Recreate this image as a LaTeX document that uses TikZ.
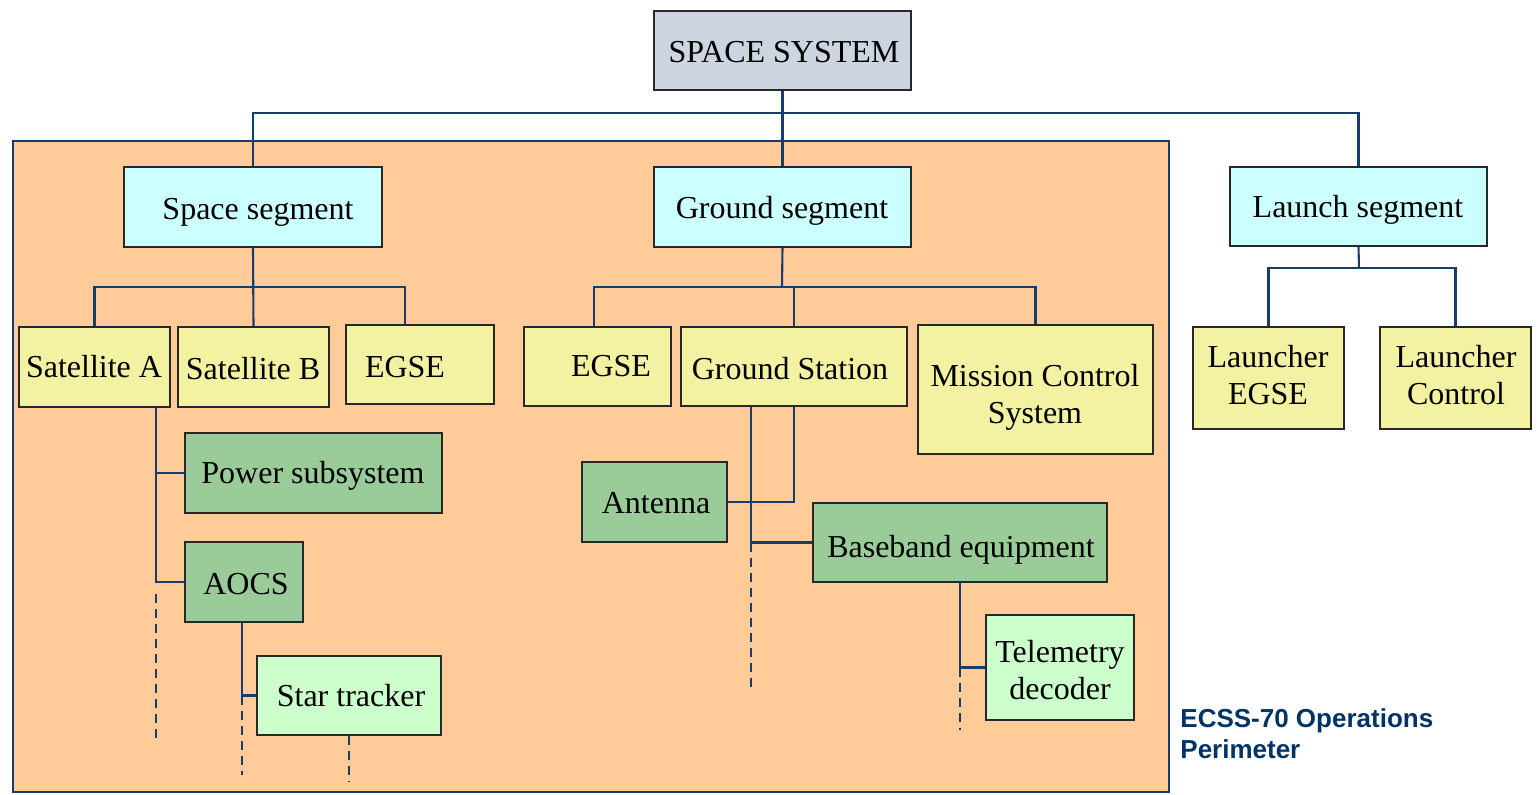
\documentclass[tikz,border=0pt]{standalone}
\usepackage{fontspec}
\setmainfont{Liberation Serif}
\newfontfamily\labfont{Liberation Sans}
\usetikzlibrary{fit,calc}
\definecolor{sysfill}{RGB}{205,213,224}
\definecolor{segfill}{RGB}{204,255,255}
\definecolor{yelfill}{RGB}{242,242,162}
\definecolor{grnfill}{RGB}{153,204,153}
\definecolor{ltgfill}{RGB}{204,255,204}
\definecolor{perfill}{RGB}{255,204,153}
\definecolor{lineblue}{RGB}{23,60,110}
\definecolor{labblue}{RGB}{0,51,102}
\definecolor{boxline}{RGB}{40,40,40}
\begin{document}
\begin{tikzpicture}[x=0.5pt,y=-0.5pt,
  box/.style={draw=boxline, line width=0.7pt, inner sep=0pt, rectangle},
  txt/.style={anchor=base, inner sep=0pt, font=\fontsize{16}{18.5}\selectfont, align=center},
  conn/.style={draw=lineblue, line width=1.05pt},
  dconn/.style={conn, dash pattern=on 4.5pt off 3pt},
]
\useasboundingbox (0,0) rectangle (1538,794);
\node[draw=lineblue, line width=1.2pt, fill=perfill, inner sep=0pt, fit={(13,141) (1169,792)}] (perim) {};

% boxes
\node[box, fill=sysfill, fit={(654,11) (911,90)}] (sys) {};
\node[box, fill=segfill, fit={(124,167) (382,247)}] (spaceseg) {};
\node[box, fill=segfill, fit={(654,167) (911,247)}] (groundseg) {};
\node[box, fill=segfill, fit={(1230,167) (1487,246)}] (launchseg) {};
\node[box, fill=yelfill, fit={(19,327) (170,407)}] (satA) {};
\node[box, fill=yelfill, fit={(178,327) (329,407)}] (satB) {};
\node[box, fill=yelfill, fit={(346,325) (494,404)}] (egseA) {};
\node[box, fill=yelfill, fit={(524,327) (671,406)}] (egseB) {};
\node[box, fill=yelfill, fit={(681,327) (907,406)}] (gs) {};
\node[box, fill=yelfill, fit={(918,325) (1153,454)}] (mcs) {};
\node[box, fill=yelfill, fit={(1193,327) (1344,429)}] (legse) {};
\node[box, fill=yelfill, fit={(1380,327) (1531,429)}] (lctrl) {};
\node[box, fill=grnfill, fit={(185,433) (442,513)}] (power) {};
\node[box, fill=grnfill, fit={(185,542) (303,622)}] (aocs) {};
\node[box, fill=ltgfill, fit={(257,656) (441,735)}] (star) {};
\node[box, fill=grnfill, fit={(582,462) (727,542)}] (ant) {};
\node[box, fill=grnfill, fit={(813,503) (1107,582)}] (bb) {};
\node[box, fill=ltgfill, fit={(986,615) (1134,720)}] (tel) {};

% texts (multi-line: anchor base = last line)
\node[txt] (sys-t) at (784,62) {SPACE SYSTEM};
\node[txt] (spaceseg-t) at (258,219) {Space segment};
\node[txt] (groundseg-t) at (782,218) {Ground segment};
\node[txt] (launchseg-t) at (1358,217) {Launch segment};
\node[txt] (satA-t) at (94,377) {Satellite A};
\node[txt] (satB-t) at (253,379) {Satellite B};
\node[txt] (egseA-t) at (405,377) {EGSE};
\node[txt] (egseB-t) at (611,376) {EGSE};
\node[txt] (gs-t) at (790,379) {Ground Station};
\node[txt] (mcs-t) at (1035,423) {Mission Control\\System};
\node[txt] (legse-t) at (1268,404) {Launcher\\EGSE};
\node[txt] (lctrl-t) at (1456,404) {Launcher\\Control};
\node[txt] (power-t) at (313,483) {Power subsystem};
\node[txt] (aocs-t) at (246,594) {AOCS};
\node[txt] (star-t) at (351,706) {Star tracker};
\node[txt] (ant-t) at (656,513) {Antenna};
\node[txt] (bb-t) at (961,557) {Baseband equipment};
\node[txt] (tel-t) at (1060,699) {Telemetry\\decoder};
\node[anchor=base west, inner sep=0pt, align=left, text=labblue,
  font=\labfont\bfseries\fontsize{13}{15.5}\selectfont] (lab) at (1180,758) {ECSS-70 Operations\\Perimeter};

% connectors level 1
\coordinate (topbus) at (782,113);
\draw[conn] (sys.south) -- (groundseg.north);
\draw[conn] (spaceseg.north) -- (spaceseg.north |- topbus) -- (launchseg.north |- topbus) -- (launchseg.north);

% space segment
\coordinate (sbus) at (253,287);
\coordinate (egseAc) at ($(egseA.north west)+(60,0)$);
\draw[conn] (spaceseg.south) -- (satB.north);
\draw[conn] (satA.north) -- (satA.north |- sbus) -- (egseAc |- sbus) -- (egseAc);

% ground segment
\coordinate (gbus) at (782,287);
\coordinate (egseBc) at ($(egseB.north west)+(71,0)$);
\draw[conn] (groundseg.south) -- (gbus);
\draw[conn] (egseBc) -- (egseBc |- gbus) -- (mcs.north |- gbus) -- (mcs.north);
\draw[conn] (gs.north) -- (gs.north |- gbus);

% launch segment
\coordinate (lbus) at (1359,268);
\draw[conn] (launchseg.south) -- (lbus);
\draw[conn] (legse.north) -- (legse.north |- lbus) -- (lctrl.north |- lbus) -- (lctrl.north);

% satellite A
\coordinate (sa) at ($(satA.south east)+(-15,0)$);
\draw[conn] (sa) |- (power.west);
\draw[conn] (sa) |- (aocs.west);
\draw[dconn] ($(sa |- aocs.west)+(0,12)$) -- (sa |- 0,742);

% AOCS
\coordinate (ao) at ($(aocs.south)+(-2,0)$);
\draw[conn] (ao) |- (star.west);
\draw[dconn] (ao |- star.west) -- (ao |- 0,775);
\draw[dconn] (star.south) -- ++(0,46);

% ground station
\coordinate (gsl) at ($(gs.south west)+(71,0)$);
\draw[conn] (gsl) |- (bb.west);
\draw[dconn] (gsl |- bb.west) -- (gsl |- 0,690);
\draw[conn] (gs.south) |- (ant.east);

% baseband
\draw[conn] (bb.south) |- (tel.west);
\draw[dconn] (bb.south |- tel.west) -- (bb.south |- 0,730);
\end{tikzpicture}
\end{document}
